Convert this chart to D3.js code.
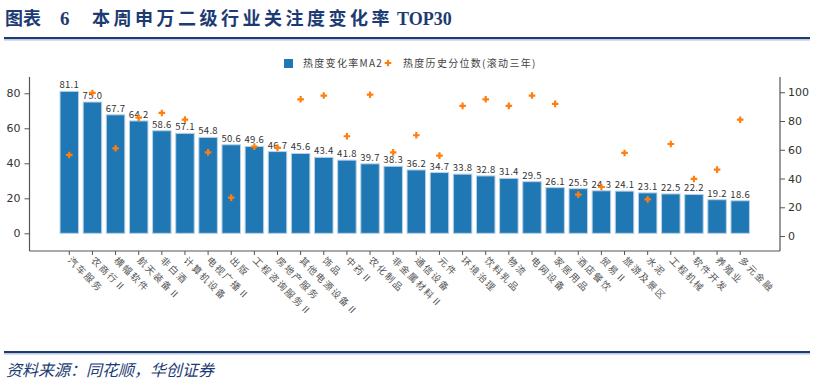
<!DOCTYPE html>
<html><head><meta charset="utf-8">
<script src="https://cdn.jsdelivr.net/npm/d3@7"></script>
<style>
body{margin:0;background:#fff;}
svg{display:block;}
</style></head>
<body>
<svg id="c" width="814" height="383"></svg>
<script>
const categories = ["汽车服务","农商行Ⅱ","横幅软件","航天装备Ⅱ","非白酒","计算机设备","电视广播Ⅱ","出版","工程咨询服务Ⅱ","房地产服务","其他电源设备Ⅱ","饰品","中药Ⅱ","农化制品","非金属材料Ⅱ","通信设备","元件","环境治理","饮料乳品","物流","电网设备","家居用品","酒店餐饮","贸易Ⅱ","旅游及景区","水泥","工程机械","软件开发","养殖业","多元金融"];
const heatChange = [81.1,75.0,67.7,64.2,58.6,57.1,54.8,50.6,49.6,46.7,45.6,43.4,41.8,39.7,38.3,36.2,34.7,33.8,32.8,31.4,29.5,26.1,25.5,24.3,24.1,23.1,22.5,22.2,19.2,18.6];
const heatPct = [56.4,99.5,61.0,82.3,85.6,81.0,58.2,26.7,62.2,61.5,95.1,97.7,69.4,98.3,58.2,70.1,55.9,90.5,95.1,90.5,97.7,91.9,28.8,34.1,57.8,25.5,64.0,39.7,46.2,80.9];
const leftTicks = [0,20,40,60,80];
const rightTicks = [0,20,40,60,80,100];
const seriesNames = ["热度变化率MA2","热度历史分位数(滚动三年)"];

const svg = d3.select("#c");
const navy = "#1c3b72";
const blue = "#1f77b4", orange = "#ff7f0e";
const L = 29.5, R = 780, T = 77, B = 251;

// header
svg.append("text").attr("x",5).attr("y",25).attr("fill",navy)
  .attr("font-family","Noto Sans CJK SC").attr("font-weight","bold").attr("font-size",18)
  .text("图表");
svg.append("text").attr("x",60).attr("y",25).attr("fill",navy)
  .attr("font-family","Liberation Serif").attr("font-weight","bold").attr("font-size",19)
  .text("6");
svg.append("text").attr("x",92).attr("y",25).attr("fill",navy)
  .attr("font-family","Noto Sans CJK SC").attr("font-weight","bold").attr("font-size",18)
  .attr("letter-spacing",3.5)
  .text("本周申万二级行业关注度变化率")
  .append("tspan").attr("font-family","Liberation Serif").attr("letter-spacing",0).attr("dx",4).text("TOP30");
svg.append("rect").attr("x",4).attr("y",37).attr("width",806).attr("height",2).attr("fill",navy);
svg.append("rect").attr("x",4).attr("y",39.5).attr("width",806).attr("height",0.8).attr("fill","#7f95bd");
svg.append("rect").attr("x",4).attr("y",351).attr("width",806).attr("height",2).attr("fill",navy);
svg.append("rect").attr("x",4).attr("y",353.5).attr("width",806).attr("height",0.8).attr("fill","#7f95bd");
svg.append("text").attr("x",6).attr("y",376).attr("fill",navy)
  .attr("font-family","Noto Sans CJK SC").attr("font-style","italic").attr("font-size",16)
  .text("资料来源：同花顺，华创证券");

// scales
const x = d3.scaleBand().domain(categories).range([L,R]).paddingInner(0.2).paddingOuter(1.32);
const yL = d3.scaleLinear().domain([-10.1,89.3]).range([B,T]);
const yR = d3.scaleLinear().domain([-10.4,110.6]).range([B,T]);

// bars
svg.append("g").selectAll("rect").data(heatChange).join("rect")
  .attr("x",(d,i)=>x(categories[i])).attr("width",x.bandwidth())
  .attr("y",d=>yL(d)).attr("height",d=>yL(0)-yL(d))
  .attr("fill",blue).attr("stroke","#b9d2e8").attr("stroke-width",1);

// bar labels
svg.append("g").selectAll("text").data(heatChange).join("text")
  .attr("x",(d,i)=>x(categories[i])+x.bandwidth()/2).attr("y",d=>yL(d)-3)
  .attr("text-anchor","middle").attr("font-family","Noto Sans CJK SC").attr("font-size",9.5)
  .attr("fill","#333").attr("letter-spacing",0.3)
  .text(d=>d.toFixed(1));

// dots
const plus = d3.symbol().type(d3.symbolCross).size(24);
svg.append("g").selectAll("path").data(heatPct).join("path")
  .attr("d",plus)
  .attr("transform",(d,i)=>`translate(${x(categories[i])+x.bandwidth()/2},${yR(d)})`)
  .attr("fill",orange);

// axes
const axL = svg.append("g").attr("transform",`translate(${L},0)`)
  .call(d3.axisLeft(yL).tickValues(leftTicks).tickSize(5).tickPadding(4));
axL.select(".domain").attr("d",`M0,${T}V${B}`);
const axR = svg.append("g").attr("transform",`translate(${R},0)`)
  .call(d3.axisRight(yR).tickValues(rightTicks).tickSize(5).tickPadding(3));
axR.select(".domain").attr("d",`M0,${T}V${B}`);
const axB = svg.append("g").attr("transform",`translate(0,${B})`)
  .call(d3.axisBottom(x).tickSize(4).tickFormat(""));
axB.select(".domain").attr("d",`M${L},0H${R}`);
[axL,axR,axB].forEach(a=>{
  a.select(".domain").attr("stroke","#555").attr("stroke-width",1.2);
  a.selectAll(".tick line").attr("stroke","#555");
  a.selectAll(".tick text").attr("fill","#333").attr("font-size",11).attr("font-family","DejaVu Sans");
});

// x labels rotated
svg.append("g").selectAll("text").data(categories).join("text")
  .attr("transform",d=>`translate(${x(d)+x.bandwidth()/2-2},${B+10}) rotate(45)`)
  .attr("font-family","Noto Sans CJK SC").attr("font-size",9.5).attr("fill","#555")
  .attr("letter-spacing",1.7)
  .text(d=>d);

// legend
const lg = svg.append("g");
lg.append("rect").attr("x",284).attr("y",59).attr("width",9).attr("height",9).attr("fill",blue);
lg.append("text").attr("x",303).attr("y",67).attr("font-family","Noto Sans CJK SC").attr("font-size",10)
  .attr("fill","#444").attr("letter-spacing",1.3).text(seriesNames[0]);
lg.append("path").attr("d",plus).attr("transform","translate(388,63)").attr("fill",orange);
lg.append("text").attr("x",403).attr("y",67).attr("font-family","Noto Sans CJK SC").attr("font-size",10)
  .attr("fill","#444").attr("letter-spacing",1.3).text(seriesNames[1]);
</script>
</body></html>
